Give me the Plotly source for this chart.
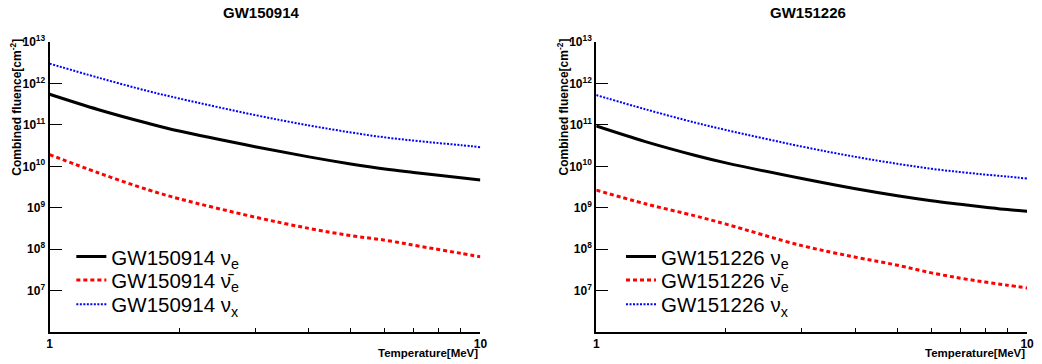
import plotly.graph_objects as go

# Temperature grid [MeV]
temperature = [1, 1.3, 1.7, 2, 3, 4, 5, 6, 7, 8, 9, 10]

# GW150914 combined fluence [cm^-2]
gw150914_nue = [5.5e11, 2.33e11, 1.08e11, 7.1e10, 2.98e10, 1.69e10, 1.14e10, 8.6e9, 7.1e9, 6.04e9, 5.3e9, 4.68e9]
gw150914_nuebar = [1.92e10, 6.9e9, 2.67e9, 1.64e9, 5.9e8, 3.16e8, 2.11e8, 1.64e8, 1.24e8, 9.75e7, 7.9e7, 6.5e7]
gw150914_nux = [3.03e12, 1.38e12, 6.5e11, 4.35e11, 1.73e11, 9.73e10, 6.6e10, 5.0e10, 4.18e10, 3.64e10, 3.25e10, 2.9e10]

# GW151226 combined fluence [cm^-2]
gw151226_nue = [9.4e10, 3.96e10, 1.83e10, 1.21e10, 5.06e9, 2.86e9, 1.94e9, 1.47e9, 1.21e9, 1.03e9, 9.0e8, 8.2e8]
gw151226_nuebar = [2.66e9, 1.24e9, 6.3e8, 4.0e8, 1.21e8, 6.36e7, 4.07e7, 2.66e7, 1.98e7, 1.59e7, 1.34e7, 1.15e7]
gw151226_nux = [5.26e11, 2.39e11, 1.13e11, 7.55e10, 3.0e10, 1.69e10, 1.15e10, 8.7e9, 7.26e9, 6.3e9, 5.65e9, 5.04e9]

panel_names = ["GW150914", "GW151226"]
panel_series = [
    [gw150914_nue, gw150914_nuebar, gw150914_nux],
    [gw151226_nue, gw151226_nuebar, gw151226_nux],
]
flavour_labels = ["ν<sub>e</sub>", "ν̄<sub>e</sub>", "ν<sub>x</sub>"]

x_tick_vals = [1, 2, 3, 4, 5, 6, 7, 8, 9, 10]
x_tick_text = ["1", " ", " ", " ", " ", " ", " ", " ", " ", "10"]
y_major_vals = [10 ** k for k in range(7, 14)]
y_major_text = ["10<sup>%d</sup>" % k for k in range(7, 14)]
y_minor_vals = [m * 10 ** k for k in range(6, 13) for m in range(2, 10)]

W, H = 1042, 364
FONT = "Liberation Sans, Arial, Helvetica, sans-serif"
BOLD = dict(family=FONT, size=12, color="black", weight="bold")

styles = [
    dict(color="black", width=3, dash="solid"),
    dict(color="#ff0000", width=3, dash="4px,3px"),
    dict(color="#0000ff", width=2, dash="2px,1.5px"),
]

x_domains = [[47 / W, 482 / W], [599 / W, 1034 / W]]
y_domain = [1 - 331 / H, 1 - 34 / H]
legend_left_px = [69, 624]
legend_rows_px = [254, 278, 303]

fig = go.Figure()
layout = dict(
    width=W, height=H,
    margin=dict(l=0, r=0, t=0, b=0),
    paper_bgcolor="white", plot_bgcolor="white",
    showlegend=True,
    annotations=[],
)

leg_count = 0
for i, (name, series) in enumerate(zip(panel_names, panel_series)):
    n = i + 1
    xa = "x" if n == 1 else "x%d" % n
    ya = "y" if n == 1 else "y%d" % n
    for j, (s, lab, st) in enumerate(zip(series, flavour_labels, styles)):
        leg_count += 1
        leg = "legend" if leg_count == 1 else "legend%d" % leg_count
        fig.add_trace(go.Scatter(
            x=temperature, y=s, mode="lines",
            line=dict(color=st["color"], width=st["width"], dash=st["dash"], shape="spline", smoothing=1.0),
            name="%s %s" % (name, lab),
            xaxis=xa, yaxis=ya, legend=leg,
        ))
        layout["legend" if leg_count == 1 else "legend%d" % leg_count] = dict(
            x=legend_left_px[i] / W, y=1 - legend_rows_px[j] / H,
            xanchor="left", yanchor="middle",
            bgcolor="rgba(0,0,0,0)", borderwidth=0,
            font=dict(family=FONT, size=20.5, color="black"),
            itemwidth=30,
        )

    # main x axis (bottom)
    layout["xaxis" if n == 1 else "xaxis%d" % n] = dict(
        type="log", range=[0, 1], domain=x_domains[i], anchor=ya,
        tickvals=x_tick_vals, ticktext=x_tick_text,
        ticks="inside", ticklen=4, tickwidth=1, tickcolor="black",
        showline=True, linewidth=2, linecolor="black",
        showgrid=False, zeroline=False, tickfont=BOLD,
    )
    # main y axis (left)
    layout["yaxis" if n == 1 else "yaxis%d" % n] = dict(
        type="log", range=[6, 13], domain=y_domain, anchor=xa,
        tickvals=y_major_vals, ticktext=y_major_text,
        ticks="inside", ticklen=12, tickwidth=1, tickcolor="black",
        showline=True, linewidth=2, linecolor="black",
        showgrid=False, zeroline=False, tickfont=BOLD,
    )
    # minor y ticks
    layout["yaxis%d" % (n + 2)] = dict(
        type="log", range=[6, 13], overlaying=ya, anchor=xa, side="left",
        tickvals=y_minor_vals, ticks="inside", ticklen=6, tickwidth=1, tickcolor="black",
        showticklabels=False, showline=False, showgrid=False, zeroline=False,
    )
    # right frame line
    layout["yaxis%d" % (n + 4)] = dict(
        type="log", range=[6, 13], overlaying=ya, anchor=xa, side="right",
        ticks="", showticklabels=False, showline=True, linewidth=1, linecolor="black",
        showgrid=False, zeroline=False,
    )
    # top frame line
    layout["xaxis%d" % (n + 2)] = dict(
        type="log", range=[0, 1], overlaying=xa, anchor=ya, side="top",
        ticks="", showticklabels=False, showline=True, linewidth=1, linecolor="black",
        showgrid=False, zeroline=False,
    )

    x0, x1 = x_domains[i]
    # panel title
    layout["annotations"].append(dict(
        text=name, xref="paper", yref="paper", x=(x0 + x1) / 2 - 4 / W, y=1 - 4 / H,
        xanchor="center", yanchor="middle", showarrow=False,
        font=dict(family=FONT, size=15, color="black", weight="bold"),
    ))
    # x title
    layout["annotations"].append(dict(
        text="Temperature[MeV]", xref="paper", yref="paper", x=x1, y=1 - 353 / H,
        xanchor="right", yanchor="middle", showarrow=False,
        font=dict(family=FONT, size=11.5, color="black", weight="bold"),
    ))
    # y title
    layout["annotations"].append(dict(
        text="Combined fluence[cm<sup>-2</sup>]", xref="paper", yref="paper",
        x=x0 - 34 / W, y=1 - 28 / H, textangle=-90,
        xanchor="center", yanchor="top", showarrow=False,
        font=dict(family=FONT, size=12, color="black", weight="bold"),
    ))

fig.update_layout(**layout)
fig.write_html(
    "out.html",
    config={"responsive": False, "displayModeBar": False},
    post_script="document.body.style.margin='0';document.body.style.overflow='hidden';",
)
